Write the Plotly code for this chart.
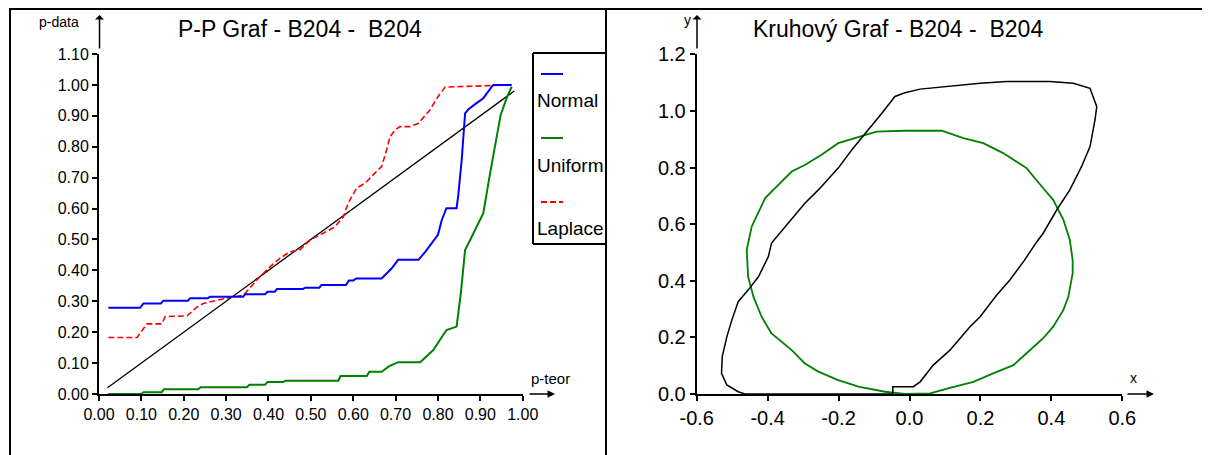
import plotly.graph_objects as go

# ---------------- data ----------------
# P-P plot (left)
series_names = ["Normal", "Uniform", "Laplace"]

p_teor_diag = [0.02, 0.98]
p_data_diag = [0.02, 0.98]

normal_x = [0.022, 0.097, 0.105, 0.146, 0.152, 0.21, 0.215, 0.257, 0.262, 0.34, 0.345, 0.392,
            0.398, 0.415, 0.42, 0.481, 0.487, 0.52, 0.525, 0.583, 0.59, 0.6, 0.607, 0.667,
            0.69, 0.706, 0.754, 0.77, 0.80, 0.809, 0.82, 0.844, 0.848, 0.856, 0.864, 0.872,
            0.891, 0.907, 0.93, 0.974]
normal_y = [0.279, 0.279, 0.293, 0.293, 0.302, 0.302, 0.31, 0.31, 0.315, 0.315, 0.323, 0.323,
            0.331, 0.331, 0.34, 0.34, 0.344, 0.344, 0.353, 0.353, 0.367, 0.367, 0.374, 0.374,
            0.405, 0.434, 0.434, 0.46, 0.515, 0.563, 0.601, 0.601, 0.644, 0.757, 0.908, 0.921,
            0.941, 0.957, 1.0, 1.0]

uniform_x = [0.022, 0.10, 0.105, 0.148, 0.153, 0.234, 0.24, 0.349, 0.355, 0.392, 0.398, 0.435,
             0.44, 0.565, 0.57, 0.632, 0.638, 0.667, 0.685, 0.706, 0.758, 0.789, 0.82, 0.844,
             0.854, 0.858, 0.864, 0.876, 0.907, 0.923, 0.935, 0.948, 0.962, 0.974]
uniform_y = [0.0, 0.0, 0.006, 0.006, 0.015, 0.015, 0.022, 0.022, 0.03, 0.03, 0.039, 0.039,
             0.043, 0.043, 0.058, 0.058, 0.072, 0.072, 0.09, 0.103, 0.103, 0.142, 0.207, 0.218,
             0.326, 0.39, 0.466, 0.498, 0.585, 0.714, 0.811, 0.903, 0.957, 0.994]

laplace_x = [0.022, 0.09, 0.113, 0.148, 0.156, 0.208, 0.23, 0.246, 0.301, 0.341, 0.38, 0.404,
             0.427, 0.451, 0.474, 0.498, 0.522, 0.557, 0.577, 0.588, 0.608, 0.628, 0.647, 0.667,
             0.679, 0.687, 0.699, 0.71, 0.734, 0.754, 0.781, 0.80, 0.817, 0.974]
laplace_y = [0.183, 0.183, 0.227, 0.227, 0.25, 0.253, 0.28, 0.293, 0.31, 0.32, 0.38, 0.412,
             0.439, 0.46, 0.466, 0.498, 0.515, 0.541, 0.574, 0.617, 0.666, 0.682, 0.709, 0.736,
             0.79, 0.833, 0.854, 0.865, 0.865, 0.876, 0.919, 0.962, 0.993, 1.0]

pp_xticks = [0.0, 0.1, 0.2, 0.3, 0.4, 0.5, 0.6, 0.7, 0.8, 0.9, 1.0]
pp_xticktext = ["0.00", "0.10", "0.20", "0.30", "0.40", "0.50", "0.60", "0.70", "0.80", "0.90", "1.00"]
pp_yticks = [0.0, 0.1, 0.2, 0.3, 0.4, 0.5, 0.6, 0.7, 0.8, 0.9, 1.0, 1.1]
pp_yticktext = ["0.00", "0.10", "0.20", "0.30", "0.40", "0.50", "0.60", "0.70", "0.80", "0.90", "1.00", "1.10"]

# Circle plot (right)
loop_x = [-0.013, 0.011, 0.030, 0.067, 0.114, 0.171, 0.199, 0.246, 0.283, 0.321, 0.359, 0.377,
          0.415, 0.452, 0.485, 0.509, 0.523, 0.528, 0.509, 0.462, 0.396, 0.274, 0.199, 0.109,
          0.030, -0.013, -0.041, -0.078, -0.116, -0.163, -0.201, -0.257, -0.295, -0.342, -0.389,
          -0.398, -0.426, -0.455, -0.483, -0.501, -0.515, -0.528, -0.530, -0.515, -0.483, -0.464,
          -0.047, -0.047, -0.013]
loop_y = [0.026, 0.026, 0.043, 0.102, 0.155, 0.238, 0.273, 0.35, 0.403, 0.467, 0.538, 0.568,
          0.65, 0.721, 0.803, 0.874, 0.968, 1.015, 1.080, 1.098, 1.104, 1.104, 1.098, 1.088,
          1.077, 1.064, 1.051, 0.992, 0.933, 0.862, 0.798, 0.721, 0.674, 0.603, 0.533,
          0.485, 0.414, 0.367, 0.326, 0.261, 0.202, 0.132, 0.073, 0.032, 0.008, 0.0,
          0.0, 0.026, 0.026]

ring_x = [-0.013, -0.069, -0.144, -0.201, -0.257, -0.295, -0.332, -0.389, -0.417, -0.44, -0.455,
          -0.459, -0.445, -0.422, -0.407, -0.379, -0.332, -0.295, -0.248, -0.201, -0.144, -0.093,
          -0.013, 0.091, 0.152, 0.208, 0.264, 0.330, 0.377, 0.405, 0.434, 0.452, 0.460, 0.460,
          0.448, 0.434, 0.405, 0.377, 0.330, 0.293, 0.236, 0.180, 0.114, 0.058, -0.013]
ring_y = [0.0, 0.008, 0.026, 0.049, 0.079, 0.108, 0.155, 0.214, 0.273, 0.344, 0.414,
          0.509, 0.591, 0.65, 0.692, 0.727, 0.786, 0.809, 0.845, 0.886, 0.909, 0.927,
          0.930, 0.930, 0.904, 0.886, 0.851, 0.798, 0.727, 0.686, 0.615, 0.544, 0.473, 0.426,
          0.344, 0.297, 0.238, 0.197, 0.144, 0.102, 0.073, 0.043, 0.022, 0.002, 0.0]

kr_xticks = [-0.6, -0.4, -0.2, 0.0, 0.2, 0.4, 0.6]
kr_xticktext = ["-0.6", "-0.4", "-0.2", "0.0", "0.2", "0.4", "0.6"]
kr_yticks = [0.0, 0.2, 0.4, 0.6, 0.8, 1.0, 1.2]
kr_yticktext = ["0.0", "0.2", "0.4", "0.6", "0.8", "1.0", "1.2"]

# ---------------- layout helpers ----------------
# The page body has an 8px margin, so the figure is made 8px smaller and
# positions below are given in window pixels and shifted by that offset.
OFF = 8
W, H = 1210 - OFF, 455 - OFF
def fx(px):
    return (px - OFF) / W
def fy(py):
    return 1 - (py - OFF) / H

FONT = "Liberation Sans, Arial, sans-serif"
NARROW = "Liberation Sans Narrow, Liberation Sans, Arial, sans-serif"

BLUE, GREEN, RED = "#0000ff", "#008000", "#ff0000"

fig = go.Figure()

# left P-P plot
fig.add_trace(go.Scatter(x=p_teor_diag, y=p_data_diag, mode="lines",
                         line=dict(color="black", width=1.3), xaxis="x", yaxis="y"))
fig.add_trace(go.Scatter(x=uniform_x, y=uniform_y, mode="lines", name=series_names[1],
                         line=dict(color=GREEN, width=2), xaxis="x", yaxis="y"))
fig.add_trace(go.Scatter(x=laplace_x, y=laplace_y, mode="lines", name=series_names[2],
                         line=dict(color=RED, width=1.6, dash="6px,3px"), xaxis="x", yaxis="y"))
fig.add_trace(go.Scatter(x=normal_x, y=normal_y, mode="lines", name=series_names[0],
                         line=dict(color=BLUE, width=2), xaxis="x", yaxis="y"))

# right circle plot
fig.add_trace(go.Scatter(x=ring_x, y=ring_y, mode="lines",
                         line=dict(color=GREEN, width=1.8), xaxis="x2", yaxis="y2"))
fig.add_trace(go.Scatter(x=loop_x, y=loop_y, mode="lines",
                         line=dict(color="black", width=1.5), xaxis="x2", yaxis="y2"))

# legend text on a clipped overlay axis (pixel units)
leg_text_y = [102, 167, 230]
fig.add_trace(go.Scatter(x=[537, 537, 537], y=leg_text_y, mode="text", text=series_names,
                         textposition="middle right", cliponaxis=True,
                         textfont=dict(family=FONT, size=19, color="black"),
                         xaxis="x3", yaxis="y3"))

axis_common = dict(showline=True, linecolor="black", linewidth=2, ticks="outside",
                   ticklen=5, tickwidth=2, tickcolor="black", showgrid=False,
                   zeroline=False, fixedrange=True, automargin=False)

fig.update_layout(
    template="none",
    width=W, height=H, autosize=False,
    margin=dict(l=0, r=0, t=0, b=0, pad=0, autoexpand=False),
    paper_bgcolor="white", plot_bgcolor="rgba(0,0,0,0)",
    showlegend=False, hovermode=False,
    xaxis=dict(domain=[fx(99), fx(522.7)], range=[0, 1], tickvals=pp_xticks,
               ticktext=pp_xticktext, anchor="y",
               tickfont=dict(family=NARROW, size=16, color="black"), **axis_common),
    yaxis=dict(domain=[fy(394), fy(54)], range=[0, 1.1], tickvals=pp_yticks,
               ticktext=pp_yticktext, anchor="x",
               tickfont=dict(family=NARROW, size=16, color="black"), **axis_common),
    xaxis2=dict(domain=[fx(696.7), fx(1122.3)], range=[-0.6, 0.6], tickvals=kr_xticks,
                ticktext=kr_xticktext, anchor="y2",
                tickfont=dict(family=FONT, size=20, color="black"), **axis_common),
    yaxis2=dict(domain=[fy(394), fy(54.3)], range=[0, 1.2], tickvals=kr_yticks,
                ticktext=kr_yticktext, anchor="x2",
                tickfont=dict(family=FONT, size=20, color="black"), **axis_common),
    xaxis3=dict(domain=[fx(533), fx(606)], range=[533, 606], anchor="y3", visible=False,
                fixedrange=True, automargin=False),
    yaxis3=dict(domain=[fy(244), fy(53)], range=[244, 53], anchor="x3", visible=False,
                fixedrange=True, automargin=False),
)

shapes = []
def line(x0, y0, x1, y1, color="black", width=2, dash=None):
    d = dict(type="line", xref="paper", yref="paper", x0=fx(x0), y0=fy(y0),
             x1=fx(x1), y1=fy(y1), line=dict(color=color, width=width))
    if dash:
        d["line"]["dash"] = dash
    shapes.append(d)

# panel frames
line(9, 9, 1208, 9)
line(10, 9, 10, 455)
line(606, 9, 606, 455)
line(1208, 9, 1208, 455, color="#c8c8c8", width=1)

# legend box (right side hidden by the panel border)
line(533, 53, 606, 53)
line(533, 53, 533, 244)
line(533, 244, 606, 244)
# legend samples
line(541, 74, 563, 74, color=BLUE, width=2)
line(541, 138, 563, 138, color=GREEN, width=2)
line(541, 202, 563, 202, color=RED, width=2, dash="6px,3px")

fig.update_layout(shapes=shapes)

ann = []
def text(x, y, s, size, family=FONT, xanchor="center"):
    ann.append(dict(x=fx(x), y=fy(y), xref="paper", yref="paper", text=s, showarrow=False,
                    font=dict(family=family, size=size, color="black"),
                    xanchor=xanchor, yanchor="middle"))
def arrow(x0, y0, x1, y1, head):
    ann.append(dict(x=fx(x1), y=fy(y1), xref="paper", yref="paper", ax=x0 - x1, ay=y0 - y1,
                    axref="pixel", ayref="pixel", text="", showarrow=True,
                    arrowhead=head, arrowsize=1, arrowwidth=1.5, arrowcolor="black"))

text(300, 29, "P-P Graf - B204 -  B204", 23)
text(898, 29, "Kruhový Graf - B204 -  B204", 23)
text(59, 22, "p-data", 14, family=NARROW)
text(550, 378, "p-teor", 15)
text(687, 20, "y", 14)
text(1133, 378, "x", 14)

arrow(99.5, 50, 99.5, 15, 1)
arrow(528, 394, 555, 394, 2)
arrow(697, 50, 697, 15, 1)
arrow(1126, 394, 1154, 394, 2)

fig.update_layout(annotations=ann)

fig.write_html("out.html", config={"displayModeBar": False, "staticPlot": True})
